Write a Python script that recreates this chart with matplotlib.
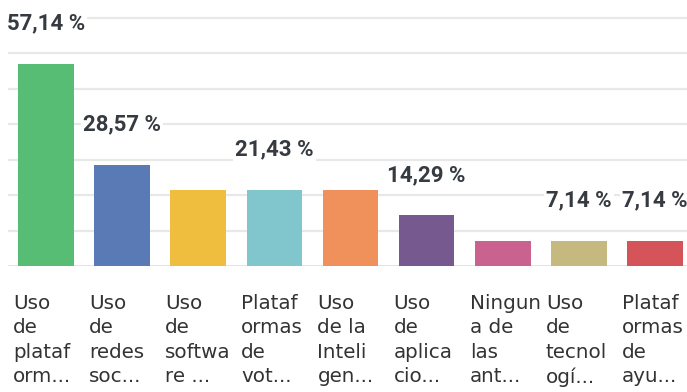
import matplotlib.pyplot as plt
import matplotlib.transforms as mtransforms

# survey answers (truncated the way the tool wraps them)
categories = [
    "Uso\nde\nplataf\norm...",
    "Uso\nde\nredes\nsoc...",
    "Uso\nde\nsoftwa\nre ...",
    "Plataf\normas\nde\nvot...",
    "Uso\nde la\nInteli\ngen...",
    "Uso\nde\naplica\ncio...",
    "Ningun\na de\nlas\nant...",
    "Uso\nde\ntecnol\nogí...",
    "Plataf\normas\nde\nayu...",
]
percentages = [57.14, 28.57, 21.43, 21.43, 21.43, 14.29, 7.14, 7.14, 7.14]
show_label = [True, True, False, True, False, True, False, True, True]

colors = ["#57bd75", "#5a7ab5", "#f0be3f", "#80c6cc", "#f0905a",
          "#765a8f", "#c9628f", "#c6b97f", "#d4545a"]

fig = plt.figure(figsize=(6.87, 3.92), dpi=100)
W, H = 687, 392
ax = fig.add_axes([8 / W, (H - 266) / H, 685 / W, 256 / H])

x = list(range(len(percentages)))
ax.bar(x, percentages, width=0.73, color=colors, zorder=3)

ax.set_xlim(-0.5, 8.5)
ax.set_ylim(0, 72.25)

# light horizontal guides every 10 %
for yv in range(10, 80, 10):
    ax.axhline(yv, color="#e8e8e8", lw=1.6, zorder=1)
ax.axhline(0, color="#dcdcdc", lw=1.8, zorder=2)

for side in ax.spines.values():
    side.set_visible(False)
ax.set_xticks([])
ax.set_yticks([])

# value labels above the bars
for i, v in enumerate(percentages):
    if not show_label[i]:
        continue
    txt = f"{v:.2f}".replace(".", ",") + " %"
    ax.annotate(txt, (i, v), xytext=(0, 29), textcoords="offset points",
                ha="center", va="center", fontsize=16, fontweight="semibold",
                family="Roboto", color="#363b41", zorder=4,
                bbox=dict(boxstyle="square,pad=0.1", fc="white", ec="none"))

# category names under the axis, left aligned in each slot
trans = mtransforms.blended_transform_factory(ax.transData, ax.transAxes)
for i, name in enumerate(categories):
    ax.annotate(name, (i - 0.5, 0), xycoords=trans, xytext=(3.6, -20),
                textcoords="offset points", ha="left", va="top",
                fontsize=14.3, family="DejaVu Sans", color="#333333",
                linespacing=1.36, annotation_clip=False)

fig.savefig("out.png", dpi=100)
